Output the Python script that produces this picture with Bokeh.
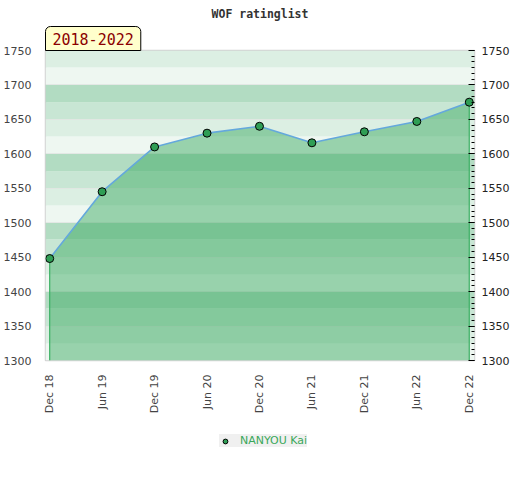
import math
from bokeh.plotting import figure
from bokeh.layouts import column
from bokeh.models import (Range1d, LinearAxis, FixedTicker, SingleIntervalTicker,
                          Title, Legend, LegendItem)
from bokeh.embed import file_html
from bokeh.resources import INLINE

# ---- data ----
periods = ["Dec 18", "Jun 19", "Dec 19", "Jun 20", "Dec 20",
           "Jun 21", "Dec 21", "Jun 22", "Dec 22"]
ratings = [1448, 1545, 1610, 1630, 1640, 1616, 1632, 1647, 1675]
player = "NANYOU Kai"
title_text = "WOF ratinglist"
period_text = "2018-2022"
y_min, y_max = 1300, 1750

x = list(range(len(periods)))

band_colors = ["#eef7f1", "#dcefe3", "#c8e6d4", "#b2dcc2"]
band_y0 = list(range(y_min, y_max, 25))
band_y1 = [v + 25 for v in band_y0]
band_c = [band_colors[((v - y_min) // 25) % 4] for v in band_y0]

x0, x1 = -0.08, len(periods) - 1 + 0.1

p = figure(width=512, height=420, output_backend="svg", toolbar_location=None,
           x_range=Range1d(x0, x1), y_range=Range1d(y_min, y_max),
           min_border_left=37, min_border_right=36, min_border_top=50,
           min_border_bottom=60)
p.outline_line_color = "#d2d2d2"
p.outline_line_width = 1.5
p.border_fill_color = "white"
p.xgrid.visible = False
p.ygrid.visible = False

# background bands
p.hstrip(y0=band_y0, y1=band_y1, fill_color=band_c, line_color=None)
p.hspan(y=list(range(y_min + 50, y_max, 50)), line_color="#e2e4e2", line_width=1, line_alpha=0.7)

# area
p.varea(x=x, y1=y_min, y2=ratings, fill_color="#37a85e", fill_alpha=0.47)
p.segment(x0=[x[0], x[-1]], y0=[y_min, y_min], x1=[x[0], x[-1]],
          y1=[ratings[0], ratings[-1]], line_color="#3cb064", line_width=1.2)
p.line(x, ratings, line_color="#64a8dc", line_width=1.6)
p.scatter(x, ratings, size=8, fill_color="#2f9e55", line_color="black", line_width=1)

# x axis
xa = p.xaxis[0]
xa.ticker = FixedTicker(ticks=x)
xa.major_label_overrides = {i: s for i, s in zip(x, periods)}
xa.major_label_orientation = math.pi / 2
xa.major_tick_line_color = None
xa.minor_tick_line_color = None
xa.axis_line_color = None
xa.major_label_standoff = 8
xa.major_label_text_font = "DejaVu Sans"
xa.major_label_text_font_size = "11px"
xa.major_label_text_color = "#444444"

# left y axis
ya = p.yaxis[0]
ya.ticker = SingleIntervalTicker(interval=50, num_minor_ticks=6)
ya.major_tick_line_color = None
ya.minor_tick_line_color = None
ya.axis_line_color = None
ya.major_label_standoff = 8
ya.major_label_text_font = "DejaVu Sans"
ya.major_label_text_font_size = "11px"
ya.major_label_text_color = "#444444"

# right y axis
ra = LinearAxis(ticker=SingleIntervalTicker(interval=50, num_minor_ticks=6))
ra.axis_line_color = None
ra.major_tick_in = 6
ra.major_tick_out = 0
ra.minor_tick_in = 3
ra.minor_tick_out = 0
ra.major_tick_line_color = "black"
ra.minor_tick_line_color = "black"
ra.major_label_standoff = 7
ra.major_label_text_font = "DejaVu Sans"
ra.major_label_text_font_size = "11px"
ra.major_label_text_color = "#222222"
p.add_layout(ra, "right")

# period box and title
p.add_layout(Title(text=period_text, align="left", offset=0, standoff=0,
                   text_font="DejaVu Sans Mono", text_font_size="15px",
                   text_font_style="normal",
                   text_color="#8b0000", background_fill_color="#ffffcc",
                   border_line_color="black", border_line_width=1,
                   padding=dict(x=7, y=6),
                   border_radius=dict(top_left=5, top_right=5, bottom_right=0, bottom_left=0)),
             "above")
p.add_layout(Title(text=title_text, align="center", standoff=8,
                   text_font="DejaVu Sans Mono", text_font_style="bold",
                   text_font_size="11.5px", text_color="#333333"), "above")

# legend strip
p2 = figure(width=512, height=40, output_backend="svg", toolbar_location=None,
            x_range=Range1d(0, 1), y_range=Range1d(0, 1),
            min_border=0, min_border_left=0, min_border_right=0,
            min_border_top=0, min_border_bottom=0)
p2.axis.visible = False
p2.grid.visible = False
p2.outline_line_color = None
p2.background_fill_color = "white"
p2.border_fill_color = "white"
leg_r = p2.scatter(x, ratings, size=6, fill_color="#2f9e55", line_color="black", line_width=1)
legend = Legend(items=[LegendItem(label=player, renderers=[leg_r])],
                location=(174, 13), orientation="horizontal",
                background_fill_color="#f0f0f0", background_fill_alpha=1,
                border_line_color=None, padding=5, margin=0,
                glyph_width=12, glyph_height=12, label_height=13,
                label_standoff=9, label_text_color="#3aa85a",
                label_text_font="DejaVu Sans", label_text_font_size="11px")
p2.add_layout(legend, "center")

open("out.html", "w").write(file_html(column(p, p2), INLINE))
